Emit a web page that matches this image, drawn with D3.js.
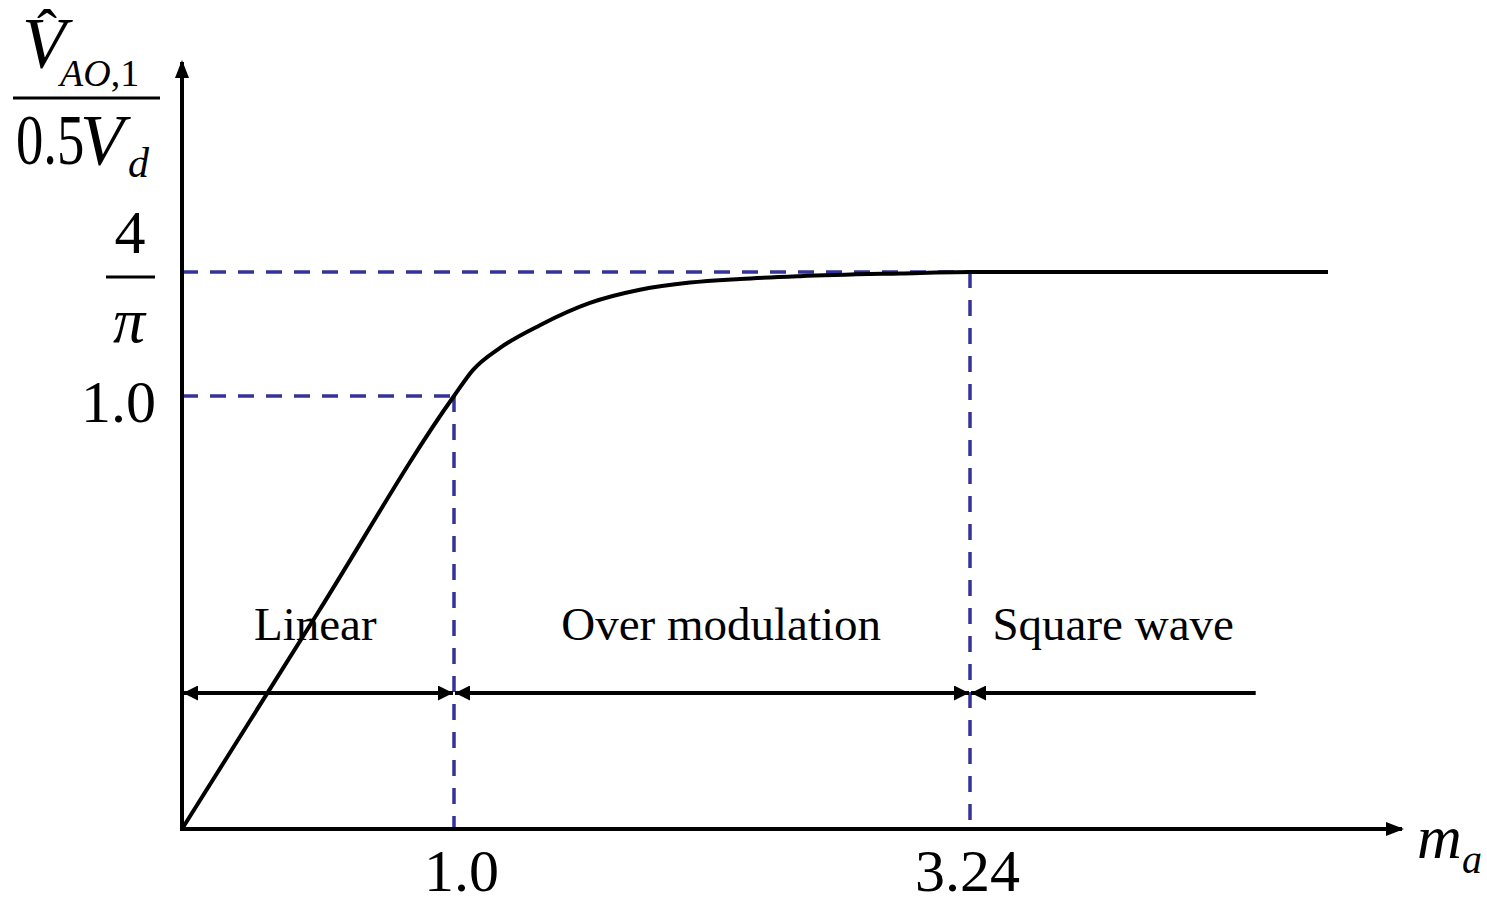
<!DOCTYPE html>
<html>
<head>
<meta charset="utf-8">
<script src="https://cdn.jsdelivr.net/npm/d3@7"></script>
<style>
  body { margin: 0; background: #fff; }
  text { font-family: "Liberation Serif", "Times New Roman", serif; fill: #000; }
</style>
</head>
<body>
<div id="chart"></div>
<script>
// modulation index m_a and normalised fundamental amplitude
const FOUR_PI = 4 / Math.PI;
const curveX = [0, 0.5, 1, 1.082, 1.2, 1.373, 1.59, 1.807, 2.024, 2.242, 2.502, 2.936, 3.24, 4.79];
const curveY = [0, 0.5, 1, 1.057, 1.106, 1.156, 1.205, 1.234, 1.25, 1.258, 1.264, 1.27, FOUR_PI, FOUR_PI];

// region boundaries along the x axis
const regionBounds = [0, 1, 3.24, 4.477];
const regionNames = ["Linear", "Over modulation", "Square wave"];
const regionTextX = [0.49, 2.16, 3.86];

const xTicks = [1, 3.24];
const xTickLabels = ["1.0", "3.24"];
const yTicks = [1];
const yTickLabels = ["1.0"];

const svgW = 1487, svgH = 900;
const dashColor = "#333399";

const svg = d3.select("#chart").append("svg")
  .attr("width", svgW)
  .attr("height", svgH);

// schematic axes: not to scale, so use piecewise linear scales
const x = d3.scaleLinear().domain([0, 1, 3.24, 4.79]).range([182, 454, 970, 1328]);
const y = d3.scaleLinear().domain([0, 1, FOUR_PI]).range([829, 396, 272]);

const defs = svg.append("defs");
defs.append("marker")
  .attr("id", "axisArrow")
  .attr("markerUnits", "userSpaceOnUse")
  .attr("viewBox", "0 -7 18 14")
  .attr("refX", 16).attr("refY", 0)
  .attr("markerWidth", 18).attr("markerHeight", 14)
  .attr("orient", "auto")
  .append("path").attr("d", "M0,-7L18,0L0,7Z").attr("fill", "#000");
defs.append("marker")
  .attr("id", "regArrow")
  .attr("markerUnits", "userSpaceOnUse")
  .attr("viewBox", "0 -7.5 15 15")
  .attr("refX", 15).attr("refY", 0)
  .attr("markerWidth", 15).attr("markerHeight", 15)
  .attr("orient", "auto-start-reverse")
  .append("path").attr("d", "M0,-7.5L15,0L0,7.5Z").attr("fill", "#000");

// dashed guide lines
const guides = [
  [[0, 1], [1, 1]],
  [[1, 1], [1, 0]],
  [[0, FOUR_PI], [3.24, FOUR_PI]],
  [[3.24, FOUR_PI], [3.24, 0]]
];
svg.append("g").selectAll("line")
  .data(guides)
  .join("line")
  .attr("x1", d => x(d[0][0])).attr("y1", d => y(d[0][1]))
  .attr("x2", d => x(d[1][0])).attr("y2", d => y(d[1][1]))
  .attr("stroke", dashColor)
  .attr("stroke-width", 3.5)
  .attr("stroke-dasharray", "16,12");

// axes lines with arrows
svg.append("line")
  .attr("x1", x(0)).attr("y1", y(0))
  .attr("x2", 1402).attr("y2", y(0))
  .attr("stroke", "#000").attr("stroke-width", 4)
  .attr("marker-end", "url(#axisArrow)");
svg.append("line")
  .attr("x1", x(0)).attr("y1", y(0) + 2)
  .attr("x2", x(0)).attr("y2", 62)
  .attr("stroke", "#000").attr("stroke-width", 4)
  .attr("marker-end", "url(#axisArrow)");

// tick labels through d3 axes
const xAxisG = svg.append("g")
  .attr("transform", "translate(0," + y(0) + ")")
  .call(d3.axisBottom(x).tickValues(xTicks).tickSize(0).tickPadding(19)
    .tickFormat((d, i) => xTickLabels[i]));
xAxisG.select(".domain").remove();
xAxisG.selectAll("text")
  .style("font-family", "Liberation Serif")
  .style("font-size", "60px")
  .attr("fill", "#000")
  .attr("dx", (d, i) => i === 0 ? 7 : -3);

const yAxisG = svg.append("g")
  .attr("transform", "translate(" + x(0) + ",0)")
  .call(d3.axisLeft(y).tickValues(yTicks).tickSize(0).tickPadding(26)
    .tickFormat((d, i) => yTickLabels[i]));
yAxisG.select(".domain").remove();
yAxisG.selectAll("text")
  .style("font-family", "Liberation Serif")
  .style("font-size", "60px")
  .attr("fill", "#000")
  .attr("dy", "0.43em");

// 4/pi fraction label
const fy = y(FOUR_PI);
svg.append("text").attr("x", 130).attr("y", fy - 19)
  .attr("text-anchor", "middle").style("font-size", "62px").text("4");
svg.append("line").attr("x1", 106).attr("x2", 155).attr("y1", fy + 5).attr("y2", fy + 5)
  .attr("stroke", "#000").attr("stroke-width", 3);
svg.append("text").attr("x", 129).attr("y", fy + 70)
  .attr("text-anchor", "middle").style("font-size", "64px").style("font-style", "italic").text("π");

// y axis title: V̂_AO,1 / 0.5 V_d
const yt = svg.append("g");
yt.append("text").attr("x", 22).attr("y", 67)
  .style("font-size", "72px").style("font-style", "italic").text("V");
yt.append("text").attr("x", 47).attr("y", 50)
  .attr("text-anchor", "middle")
  .style("font-size", "60px").text("ˆ");
const sub1 = yt.append("text").attr("x", 60).attr("y", 86).style("font-size", "38px");
sub1.append("tspan").style("font-style", "italic").text("AO");
sub1.append("tspan").text(",1");
yt.append("line").attr("x1", 13).attr("x2", 160).attr("y1", 98).attr("y2", 98)
  .attr("stroke", "#000").attr("stroke-width", 3);
yt.append("text").attr("transform", "translate(16,164) scale(0.76,1)")
  .style("font-size", "72px").text("0.5");
yt.append("text").attr("x", 80).attr("y", 164)
  .style("font-size", "72px").style("font-style", "italic").text("V");
yt.append("text").attr("x", 128).attr("y", 177)
  .style("font-size", "42px").style("font-style", "italic").text("d");

// x axis title m_a
svg.append("text").attr("x", 1417).attr("y", 858)
  .style("font-size", "62px").style("font-style", "italic").text("m");
svg.append("text").attr("x", 1462).attr("y", 873)
  .style("font-size", "40px").style("font-style", "italic").text("a");

// region arrows
const regY = 693;
const regions = regionNames.map((n, i) => ({
  name: n, x0: regionBounds[i], x1: regionBounds[i + 1], tx: regionTextX[i], both: i < 2
}));
const regG = svg.append("g");
regG.selectAll("line")
  .data(regions)
  .join("line")
  .attr("x1", d => x(d.x0) + 1).attr("x2", d => x(d.x1) - (d.both ? 1 : 0))
  .attr("y1", regY).attr("y2", regY)
  .attr("stroke", "#000").attr("stroke-width", 4)
  .attr("marker-start", "url(#regArrow)")
  .attr("marker-end", d => d.both ? "url(#regArrow)" : null);
regG.selectAll("text")
  .data(regions)
  .join("text")
  .attr("x", d => x(d.tx))
  .attr("y", regY - 53)
  .attr("text-anchor", "middle")
  .style("font-size", "47px")
  .text(d => d.name);

// characteristic curve
const pts = curveX.map((v, i) => [v, curveY[i]]);
svg.append("path")
  .datum(pts)
  .attr("fill", "none")
  .attr("stroke", "#000")
  .attr("stroke-width", 4)
  .attr("stroke-linejoin", "round")
  .attr("d", d3.line().x(d => x(d[0])).y(d => y(d[1])).curve(d3.curveMonotoneX));
</script>
</body>
</html>
